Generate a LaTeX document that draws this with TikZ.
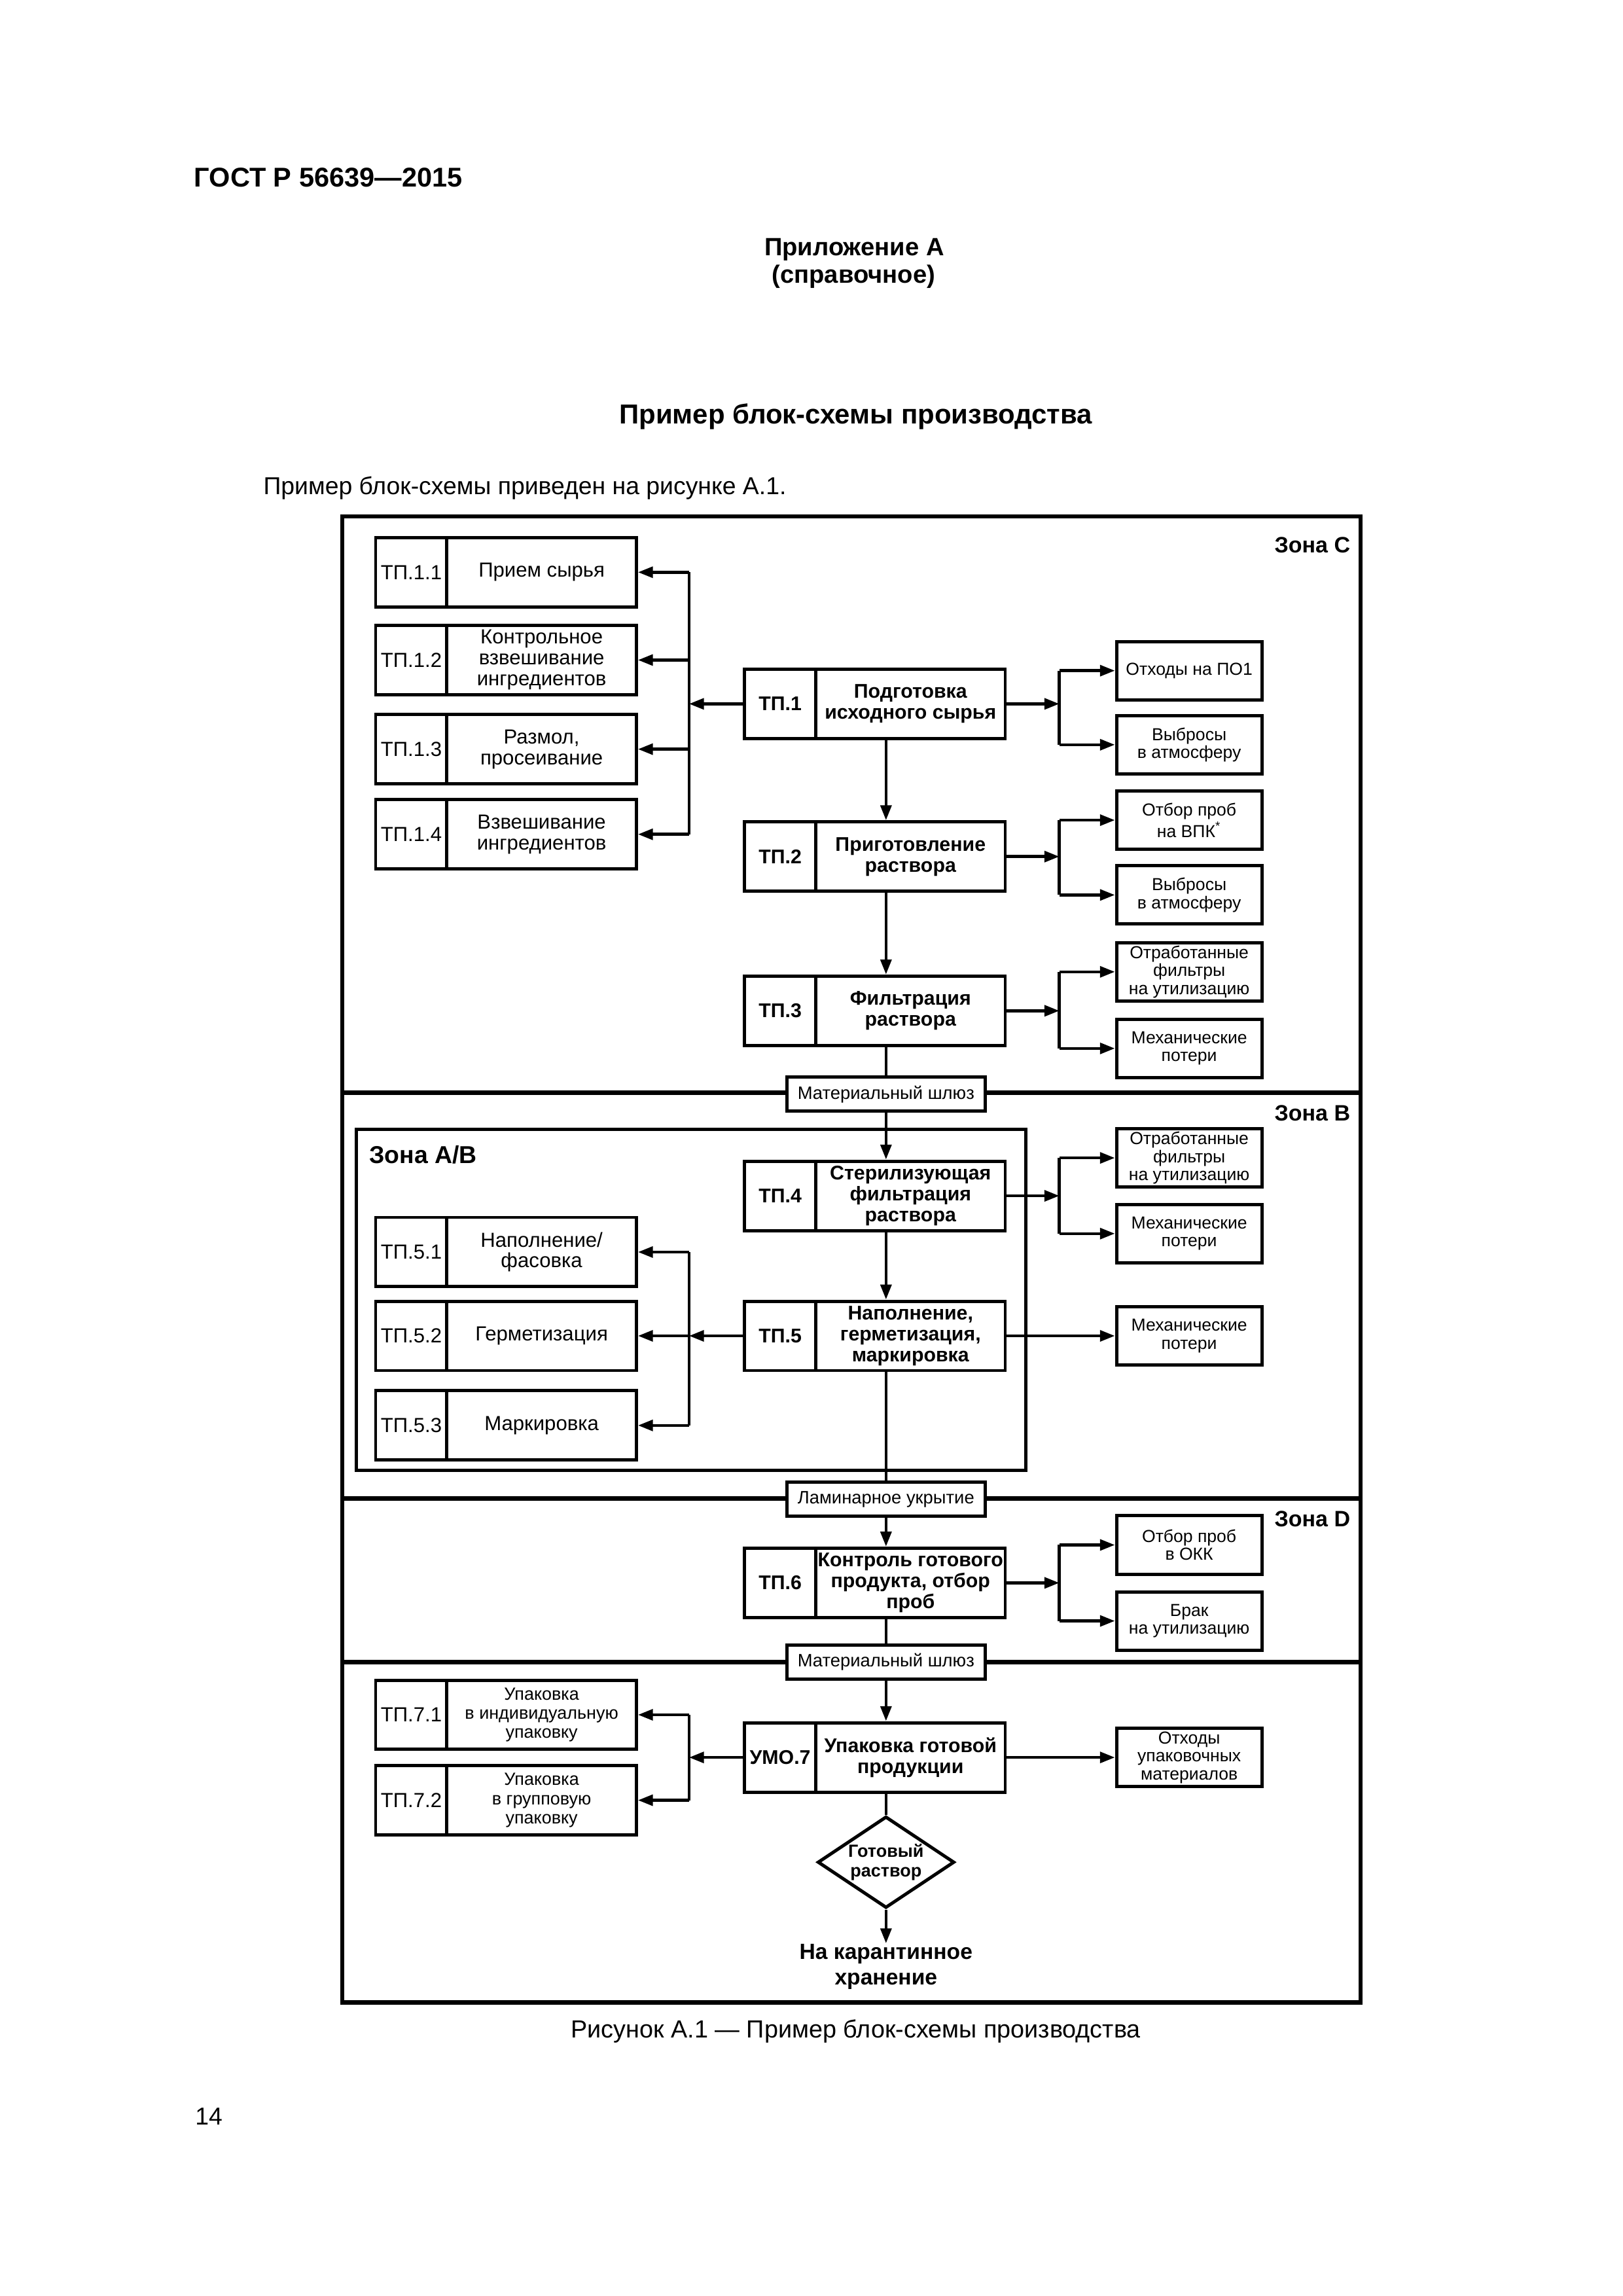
\documentclass[tikz,border=0pt]{standalone}
\usepackage{fontspec}
\setmainfont{Liberation Sans}
\usetikzlibrary{arrows.meta,shapes.geometric}

\begin{document}
\begin{tikzpicture}[x=0.1909mm, y=-0.1909mm,
    frame/.style={line width=1.5pt},
    link/.style={line width=1.1pt},
    arr/.style={line width=1.1pt, -{Triangle[length=5.5pt,width=4pt]}},
    idbox/.style={draw, fill=white, line width=1.2pt, inner sep=0pt,
      minimum width=9.22mm, minimum height=8.97mm, font=\fontsize{7.5}{8}\selectfont},
    mainid/.style={idbox, font=\bfseries\fontsize{7.3}{8}\selectfont},
    subbox/.style={draw, fill=white, line width=1.2pt, inner sep=0pt, align=center,
      minimum width=24.51mm, minimum height=8.97mm, font=\fontsize{7.5}{7.7}\selectfont},
    mainbox/.style={subbox, font=\bfseries\fontsize{7.3}{7.7}\selectfont},
    packbox/.style={subbox, font=\fontsize{6.5}{7}\selectfont},
    outbox/.style={draw, fill=white, line width=1.2pt, inner sep=0pt, align=center,
      minimum width=18.8mm, minimum height=7.54mm, font=\fontsize{6.4}{6.6}\selectfont},
    lockbox/.style={draw, fill=white, line width=1.2pt, inner sep=0pt,
      minimum width=25.66mm, minimum height=4.39mm, font=\fontsize{6.6}{8}\selectfont},
    zone/.style={anchor=base east, inner sep=0pt, font=\bfseries\fontsize{8.2}{10}\selectfont}]
  \useasboundingbox (0,0) rectangle (1100,1556);

  % page text
  \node[anchor=base west, inner sep=0pt, font=\bfseries\fontsize{10}{12}\selectfont] (gost) at (131.3,126.6) {ГОСТ Р 56639—2015};
  \node[anchor=base, inner sep=0pt, font=\bfseries\fontsize{9.2}{11}\selectfont] (annex) at (579,173.2) {Приложение А};
  \node[anchor=base, inner sep=0pt, font=\bfseries\fontsize{9.2}{11}\selectfont] (annexkind) at (578.5,192) {(справочное)};
  \node[anchor=base, inner sep=0pt, font=\bfseries\fontsize{10.1}{12}\selectfont] (title) at (580,287.4) {Пример блок-схемы производства};
  \node[anchor=base west, inner sep=0pt, font=\fontsize{9}{11}\selectfont] (intro) at (178.2,335.2) {Пример блок-схемы приведен на рисунке А.1.};
  \node[anchor=base, inner sep=0pt, font=\fontsize{9.1}{11}\selectfont] (caption) at (580,1381) {Рисунок А.1 — Пример блок-схемы производства};
  \node[anchor=base west, inner sep=0pt, font=\fontsize{9}{11}\selectfont] (pagenum) at (132,1440) {14};

  % zones
  \draw[frame] (232,350) rectangle (922,1357);
  \draw[frame] (232,740.5) -- (922,740.5);
  \draw[frame] (232,1015.5) -- (922,1015.5);
  \draw[frame] (232,1126.4) -- (922,1126.4);
  \draw[line width=1.2pt] (241.4,765.4) rectangle (695.3,996.3);
  \node[zone] (zoneC) at (915.5,374.6) {Зона C};
  \node[zone] (zoneB) at (915.5,759.6) {Зона B};
  \node[zone] (zoneD) at (915.5,1034.6) {Зона D};
  \node[zone, anchor=base west, font=\bfseries\fontsize{9}{10}\selectfont] (zoneAB) at (250,788.4) {Зона А/В};

  % main chain
  \node[mainid] (tp1id) at (528.75,477) {ТП.1};
  \node[mainbox] (tp1) at (617.1,477) {Подготовка\\исходного сырья};
  \node[mainid] (tp2id) at (528.75,580.5) {ТП.2};
  \node[mainbox] (tp2) at (617.1,580.5) {Приготовление\\раствора};
  \node[mainid] (tp3id) at (528.75,685) {ТП.3};
  \node[mainbox] (tp3) at (617.1,685) {Фильтрация\\раствора};
  \node[mainid] (tp4id) at (528.75,810.4) {ТП.4};
  \node[mainbox] (tp4) at (617.1,810.4) {Стерилизующая\\фильтрация\\раствора};
  \node[mainid] (tp5id) at (528.75,905.3) {ТП.5};
  \node[mainbox] (tp5) at (617.1,905.3) {Наполнение,\\герметизация,\\маркировка};
  \node[mainid] (tp6id) at (528.75,1072.7) {ТП.6};
  \node[mainbox] (tp6) at (617.1,1072.7) {Контроль готового\\продукта, отбор\\проб};
  \node[mainid] (tp7id) at (528.75,1191) {УМО.7};
  \node[mainbox] (tp7) at (617.1,1191) {Упаковка готовой\\продукции};

  \node[lockbox] (lock1) at (600.5,741.5) {Материальный шлюз};
  \node[lockbox] (lock2) at (600.5,1016) {Ламинарное укрытие};
  \node[lockbox] (lock3) at (600.5,1126.4) {Материальный шлюз};

  \node[draw, diamond, aspect=1.5, fill=white, line width=1.2pt, inner sep=0pt, align=center,
    minimum width=17.68mm, minimum height=11.84mm, font=\bfseries\fontsize{6.5}{7.2}\selectfont] (ready) at (600.5,1262) {Готовый\\раствор};
  \node[inner sep=0pt, align=center, anchor=north, font=\bfseries\fontsize{8.1}{9.4}\selectfont] (quar) at (600.5,1317) {На карантинное\\хранение};

  % side steps
  \node[idbox] (tp11id) at (278.75,387.8) {ТП.1.1};
  \node[subbox] (tp11) at (367.1,387.8) {Прием сырья};
  \node[idbox] (tp12id) at (278.75,447.3) {ТП.1.2};
  \node[subbox] (tp12) at (367.1,447.3) {Контрольное\\взвешивание\\ингредиентов};
  \node[idbox] (tp13id) at (278.75,507.7) {ТП.1.3};
  \node[subbox] (tp13) at (367.1,507.7) {Размол,\\просеивание};
  \node[idbox] (tp14id) at (278.75,565.4) {ТП.1.4};
  \node[subbox] (tp14) at (367.1,565.4) {Взвешивание\\ингредиентов};

  \node[idbox] (tp51id) at (278.75,848.5) {ТП.5.1};
  \node[subbox] (tp51) at (367.1,848.5) {Наполнение/\\фасовка};
  \node[idbox] (tp52id) at (278.75,905.3) {ТП.5.2};
  \node[subbox] (tp52) at (367.1,905.3) {Герметизация};
  \node[idbox] (tp53id) at (278.75,966) {ТП.5.3};
  \node[subbox] (tp53) at (367.1,966) {Маркировка};

  \node[idbox] (tp71id) at (278.75,1162.1) {ТП.7.1};
  \node[packbox] (tp71) at (367.1,1162.1) {Упаковка\\в индивидуальную\\упаковку};
  \node[idbox] (tp72id) at (278.75,1220) {ТП.7.2};
  \node[packbox] (tp72) at (367.1,1220) {Упаковка\\в групповую\\упаковку};

  % outputs
  \node[outbox] (waste1) at (806,454.5) {Отходы на ПО1};
  \node[outbox] (emis1) at (806,504.7) {Выбросы\\в атмосферу};
  \node[outbox] (samp2) at (806,555.8) {Отбор проб\\на ВПК\textsuperscript{*}};
  \node[outbox] (emis2) at (806,606.5) {Выбросы\\в атмосферу};
  \node[outbox] (filt3) at (806,658.6) {Отработанные\\фильтры\\на утилизацию};
  \node[outbox] (loss3) at (806,710.5) {Механические\\потери};
  \node[outbox] (filt4) at (806,784.7) {Отработанные\\фильтры\\на утилизацию};
  \node[outbox] (loss4) at (806,836) {Механические\\потери};
  \node[outbox] (loss5) at (806,905.3) {Механические\\потери};
  \node[outbox] (samp6) at (806,1047) {Отбор проб\\в ОКК};
  \node[outbox] (rej6) at (806,1098.5) {Брак\\на утилизацию};
  \node[outbox] (pack7) at (806,1191) {Отходы\\упаковочных\\материалов};

  % buses
  \coordinate (bus1l) at (467,477);
  \coordinate (bus1r) at (718,477);
  \coordinate (bus2r) at (718,580.5);
  \coordinate (bus3r) at (718,685);
  \coordinate (bus4r) at (718,810.4);
  \coordinate (bus5l) at (467,905.3);
  \coordinate (bus6r) at (718,1072.7);
  \coordinate (bus7l) at (467,1191);

  \draw[arr] (tp1id.west) -- (bus1l);
  \draw[link] (bus1l |- tp11) -- (bus1l |- tp14);
  \foreach \s in {tp11,tp12,tp13,tp14}
    \draw[arr] (bus1l |- \s) -- (\s.east);
  \draw[arr] (tp5id.west) -- (bus5l);
  \draw[link] (bus5l |- tp51) -- (bus5l |- tp53);
  \foreach \s in {tp51,tp52,tp53}
    \draw[arr] (bus5l |- \s) -- (\s.east);
  \draw[arr] (tp7id.west) -- (bus7l);
  \draw[link] (bus7l |- tp71) -- (bus7l |- tp72);
  \foreach \s in {tp71,tp72}
    \draw[arr] (bus7l |- \s) -- (\s.east);

  \draw[arr] (tp1.east) -- (bus1r);
  \draw[link] (bus1r |- waste1) -- (bus1r |- emis1);
  \draw[arr] (tp2.east) -- (bus2r);
  \draw[link] (bus2r |- samp2) -- (bus2r |- emis2);
  \draw[arr] (tp3.east) -- (bus3r);
  \draw[link] (bus3r |- filt3) -- (bus3r |- loss3);
  \draw[arr] (tp4.east) -- (bus4r);
  \draw[link] (bus4r |- filt4) -- (bus4r |- loss4);
  \draw[arr] (tp6.east) -- (bus6r);
  \draw[link] (bus6r |- samp6) -- (bus6r |- rej6);
  \foreach \s/\b in {waste1/bus1r,emis1/bus1r,samp2/bus2r,emis2/bus2r,filt3/bus3r,loss3/bus3r,filt4/bus4r,loss4/bus4r,samp6/bus6r,rej6/bus6r}
    \draw[arr] (\b |- \s) -- (\s.west);
  \draw[arr] (tp5.east) -- (loss5.west);
  \draw[arr] (tp7.east) -- (pack7.west);

  % down the line
  \draw[arr] (tp1.south -| lock1) -- (tp2.north -| lock1);
  \draw[arr] (tp2.south -| lock1) -- (tp3.north -| lock1);
  \draw[link] (tp3.south -| lock1) -- (lock1.north);
  \draw[arr] (lock1.south) -- (tp4.north -| lock1);
  \draw[arr] (tp4.south -| lock1) -- (tp5.north -| lock1);
  \draw[link] (tp5.south -| lock1) -- (lock2.north);
  \draw[arr] (lock2.south) -- (tp6.north -| lock1);
  \draw[link] (tp6.south -| lock1) -- (lock3.north);
  \draw[arr] (lock3.south) -- (tp7.north -| lock1);
  \draw[link] (tp7.south -| lock1) -- (ready.north);
  \draw[arr] (ready.south) -- (quar.north);
\end{tikzpicture}
\end{document}
